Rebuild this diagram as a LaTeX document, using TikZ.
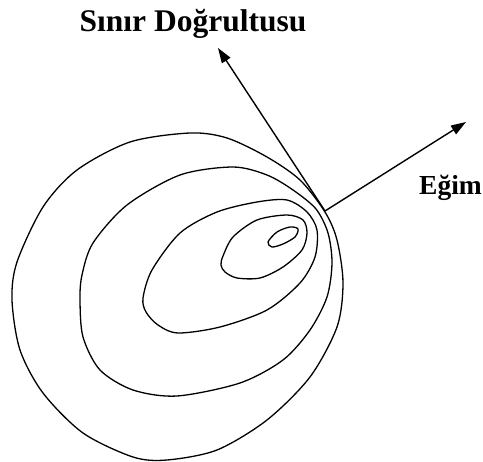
\documentclass[tikz,border=0pt]{standalone}
\usepackage{fontspec}
\setmainfont{Liberation Serif}
\usetikzlibrary{arrows.meta}

\begin{document}
\begin{tikzpicture}[
  x=1pt, y=-1pt,
  contour/.style={line width=1.3pt, line join=round},
  yon/.style={line width=1.4pt, -{Triangle[length=15pt, width=10pt]}},
  etiket/.style={font=\bfseries, inner sep=0pt},
]
  \useasboundingbox (0,0) rectangle (483,462);

  \coordinate (t) at (325,211);
  \coordinate (sinirUc) at (218,48);
  \coordinate (egimUc) at (466,122);

  \draw[contour] plot[smooth cycle] coordinates {
    (325,212) (337,240) (343,283) (337,327) (310,377) (267,420) (217,450)
    (167,460) (133,457) (83,433) (43,393) (20,350) (12,300) (17,262)
    (43,207) (77,170) (130,142) (190,133) (227,138) (267,157) (300,180)};
  \draw[contour] plot[smooth cycle] coordinates {
    (316,209) (328,233) (332,263) (327,297) (310,330) (283,360) (240,383)
    (177,396) (133,390) (100,370) (83,337) (80,300) (82,275) (93,243)
    (127,205) (180,175) (233,167) (267,175) (293,190)};
  \draw[contour] plot[smooth cycle] coordinates {
    (287,200) (307,212) (317,230) (315,257) (300,283) (267,310) (220,327)
    (178,333) (158,325) (146,312) (143,298) (152,270) (180,233) (217,212)
    (257,202)};
  \draw[contour] plot[smooth cycle] coordinates {
    (223,256) (233,237) (257,220) (287,215) (303,220) (307,233) (302,250)
    (283,267) (260,278) (237,278) (225,272) (221,265)};
  \draw[contour] plot[smooth cycle] coordinates {
    (268,242) (277,232) (290,227) (298,229) (295,237) (283,244) (272,247)};

  \draw[yon] (t) -- (sinirUc);
  \draw[yon] (t) -- (egimUc);

  \node[etiket, anchor=base, font=\fontsize{31.5}{36}\bfseries\selectfont] (sinir) at (193,32) {Sınır Doğrultusu};
  \node[etiket, anchor=base east, font=\fontsize{27.5}{32}\bfseries\selectfont] (egim) at (482,195) {Eğim};
\end{tikzpicture}
\end{document}
